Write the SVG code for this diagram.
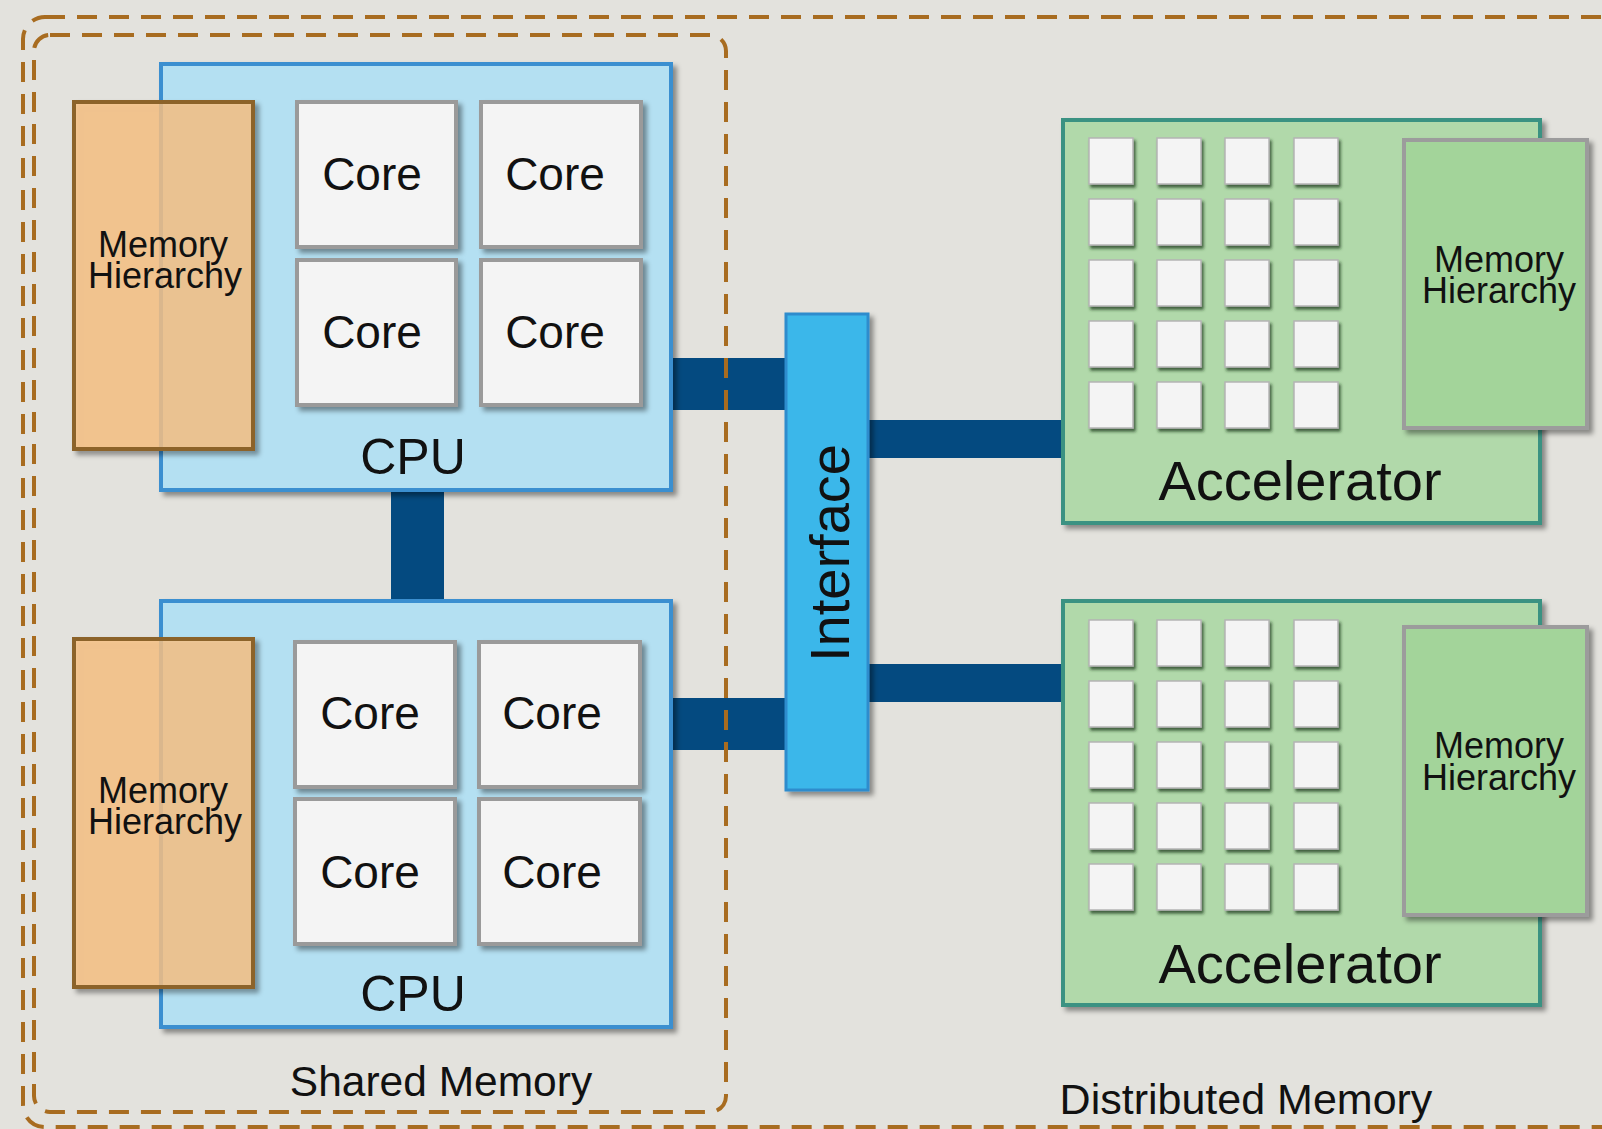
<svg xmlns="http://www.w3.org/2000/svg" width="1602" height="1129" viewBox="0 0 1602 1129">
<defs>
<filter id="sh" x="-10%" y="-10%" width="130%" height="130%">
<feDropShadow dx="4" dy="4" stdDeviation="2.5" flood-color="#000" flood-opacity="0.4"/>
</filter>
<filter id="shs" x="-20%" y="-20%" width="150%" height="150%">
<feDropShadow dx="2" dy="3" stdDeviation="1.5" flood-color="#1c3a1c" flood-opacity="0.75"/>
</filter>
<style>
.bg{fill:#e3e2dd}
.dash{fill:none;stroke:#a86c20;stroke-width:4;stroke-dasharray:20 12}
.cpu{fill:#b4e0f2;stroke:#3a8fd0;stroke-width:4;filter:url(#sh)}
.mem{fill:#fbc487;fill-opacity:0.8;stroke:#8c642c;stroke-width:4;filter:url(#sh)}
.core{fill:#f4f4f4;stroke:#9a9a9a;stroke-width:4;filter:url(#sh)}
.acc{fill:#b1d9aa;stroke:#3a9282;stroke-width:4;filter:url(#sh)}
.gmem{fill:#a3d49a;stroke:#9c9c9c;stroke-width:4;filter:url(#sh)}
.sq{fill:#f4f4f4;stroke:#b4b4b4;stroke-width:1.5;filter:url(#shs)}
.itf{fill:#3ab7ea;stroke:#2e8ccd;stroke-width:3;filter:url(#sh)}
.conn{fill:#044a80}
.t{font-family:"Liberation Sans",Arial,sans-serif;fill:#111;text-anchor:middle}
.mh{font-size:36px}
.core-t{font-size:46px}
.cpu-t{font-size:50px}
.acc-t{font-size:56px}
.lbl{font-size:42.5px}
</style>
</defs>
<rect class="bg" x="0" y="0" width="1602" height="1129"/>

<g id="connectors">
<rect class="conn" x="391" y="488" width="53" height="115"/>
<rect class="conn" x="669" y="358" width="118" height="52"/>
<rect class="conn" x="669" y="698" width="118" height="52"/>
<rect class="conn" x="866" y="420" width="199" height="38"/>
<rect class="conn" x="866" y="664" width="199" height="38"/>
</g>

<g id="cpu1">
<rect class="cpu" x="161" y="64" width="510" height="426"/>
<rect class="mem" x="74" y="102" width="179" height="347"/>
<text class="t mh" x="163" y="257">Memory</text>
<text class="t mh" x="165" y="288">Hierarchy</text>
<rect class="core" x="297" y="102" width="159" height="145"/>
<text class="t core-t" x="372" y="190">Core</text>
<rect class="core" x="481" y="102" width="160" height="145"/>
<text class="t core-t" x="555" y="190">Core</text>
<rect class="core" x="297" y="260" width="159" height="145"/>
<text class="t core-t" x="372" y="348">Core</text>
<rect class="core" x="481" y="260" width="160" height="145"/>
<text class="t core-t" x="555" y="348">Core</text>
<text class="t cpu-t" x="413" y="474">CPU</text>
</g>

<g id="cpu2">
<rect class="cpu" x="161" y="601" width="510" height="426"/>
<rect class="mem" x="74" y="639" width="179" height="348"/>
<text class="t mh" x="163" y="803">Memory</text>
<text class="t mh" x="165" y="834">Hierarchy</text>
<rect class="core" x="295" y="642" width="160" height="145"/>
<text class="t core-t" x="370" y="729">Core</text>
<rect class="core" x="479" y="642" width="161" height="145"/>
<text class="t core-t" x="552" y="729">Core</text>
<rect class="core" x="295" y="799" width="160" height="145"/>
<text class="t core-t" x="370" y="888">Core</text>
<rect class="core" x="479" y="799" width="161" height="145"/>
<text class="t core-t" x="552" y="888">Core</text>
<text class="t cpu-t" x="413" y="1011">CPU</text>
</g>

<g id="interface">
<rect class="itf" x="786" y="314" width="82" height="476"/>
<text class="t acc-t" transform="translate(849,553) rotate(-90)" x="0" y="0">Interface</text>
</g>

<g id="accelerator1">
<rect class="acc" x="1063" y="120" width="477" height="403"/>
<rect class="gmem" x="1404" y="140" width="183" height="288"/>
<text class="t mh" x="1499" y="272">Memory</text>
<text class="t mh" x="1499" y="303">Hierarchy</text>
<g>
<rect class="sq" x="1089" y="138" width="44" height="46"/><rect class="sq" x="1157" y="138" width="44" height="46"/><rect class="sq" x="1225" y="138" width="44" height="46"/><rect class="sq" x="1294" y="138" width="44" height="46"/>
<rect class="sq" x="1089" y="199" width="44" height="46"/><rect class="sq" x="1157" y="199" width="44" height="46"/><rect class="sq" x="1225" y="199" width="44" height="46"/><rect class="sq" x="1294" y="199" width="44" height="46"/>
<rect class="sq" x="1089" y="260" width="44" height="46"/><rect class="sq" x="1157" y="260" width="44" height="46"/><rect class="sq" x="1225" y="260" width="44" height="46"/><rect class="sq" x="1294" y="260" width="44" height="46"/>
<rect class="sq" x="1089" y="321" width="44" height="46"/><rect class="sq" x="1157" y="321" width="44" height="46"/><rect class="sq" x="1225" y="321" width="44" height="46"/><rect class="sq" x="1294" y="321" width="44" height="46"/>
<rect class="sq" x="1089" y="382" width="44" height="46"/><rect class="sq" x="1157" y="382" width="44" height="46"/><rect class="sq" x="1225" y="382" width="44" height="46"/><rect class="sq" x="1294" y="382" width="44" height="46"/>
</g>
<text class="t acc-t" x="1300" y="500">Accelerator</text>
</g>

<g id="accelerator2">
<rect class="acc" x="1063" y="601" width="477" height="404"/>
<rect class="gmem" x="1404" y="627" width="183" height="288"/>
<text class="t mh" x="1499" y="758">Memory</text>
<text class="t mh" x="1499" y="790">Hierarchy</text>
<g>
<rect class="sq" x="1089" y="620" width="44" height="46"/><rect class="sq" x="1157" y="620" width="44" height="46"/><rect class="sq" x="1225" y="620" width="44" height="46"/><rect class="sq" x="1294" y="620" width="44" height="46"/>
<rect class="sq" x="1089" y="681" width="44" height="46"/><rect class="sq" x="1157" y="681" width="44" height="46"/><rect class="sq" x="1225" y="681" width="44" height="46"/><rect class="sq" x="1294" y="681" width="44" height="46"/>
<rect class="sq" x="1089" y="742" width="44" height="46"/><rect class="sq" x="1157" y="742" width="44" height="46"/><rect class="sq" x="1225" y="742" width="44" height="46"/><rect class="sq" x="1294" y="742" width="44" height="46"/>
<rect class="sq" x="1089" y="803" width="44" height="46"/><rect class="sq" x="1157" y="803" width="44" height="46"/><rect class="sq" x="1225" y="803" width="44" height="46"/><rect class="sq" x="1294" y="803" width="44" height="46"/>
<rect class="sq" x="1089" y="864" width="44" height="46"/><rect class="sq" x="1157" y="864" width="44" height="46"/><rect class="sq" x="1225" y="864" width="44" height="46"/><rect class="sq" x="1294" y="864" width="44" height="46"/>
</g>
<text class="t acc-t" x="1300" y="983">Accelerator</text>
</g>

<g id="shared-memory">
<rect class="dash" x="34" y="35" width="692" height="1077" rx="16"/>
<text class="t lbl" x="441" y="1096">Shared Memory</text>
</g>

<g id="distributed-memory">
<rect class="dash" x="23" y="17" width="1620" height="1110" rx="22"/>
<text class="t lbl" x="1246" y="1114" style="font-size:43px">Distributed Memory</text>
</g>
</svg>
